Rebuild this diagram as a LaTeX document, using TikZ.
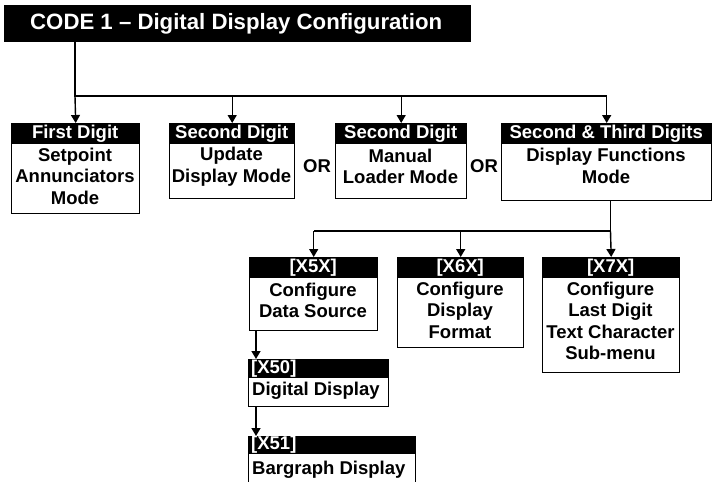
\documentclass[tikz,border=0pt]{standalone}
\usepackage{fontspec}
\setmainfont{Liberation Sans}
\usetikzlibrary{arrows.meta}
\tikzset{
  boxframe/.style={draw=black, line width=1.4pt, fill=white, inner sep=0pt, anchor=north west},
  hdr/.style={fill=black, text=white, inner sep=0pt, anchor=north west, minimum height=21pt,
    font=\fontsize{18.5}{21.5}\selectfont\bfseries},
  bodytxt/.style={align=center, inner sep=0pt, font=\fontsize{18.5}{21.5}\selectfont\bfseries},
  conn/.style={line width=1.4pt},
  arr/.style={line width=1.4pt, -{Triangle[length=8pt,width=9pt]}},
  ortxt/.style={inner sep=0pt, font=\fontsize{18.5}{21.5}\selectfont\bfseries}
}
\begin{document}
\begin{tikzpicture}[x=1pt,y=-1pt]
\clip (0,0) rectangle (713,482);
\fill[white] (0,0) rectangle (713,482);
% title
\node[fill=black, anchor=north west, minimum height=37pt, minimum width=467pt, inner sep=0pt] (title) at (4,5) {};
\node[text=white, anchor=west, inner sep=0pt, font=\fontsize{22.2}{26}\selectfont\bfseries] (titletxt) at (30,23.5)
  {CODE 1 -- Digital Display Configuration};
% top row boxes
\node[boxframe, minimum width=128pt, minimum height=90pt] (b1) at (11,123) {};
\node[hdr, minimum width=128pt] (b1h) at (11,123) {First Digit};
\node[bodytxt] (b1t) at (75,176) {Setpoint\\Annunciators\\Mode};

\node[boxframe, minimum width=125pt, minimum height=75pt] (b2) at (169,123) {};
\node[hdr, minimum width=125pt] (b2h) at (169,123) {Second Digit};
\node[bodytxt] (b2t) at (231.5,166.5) {Update\\Display Mode};

\node[boxframe, minimum width=131pt, minimum height=75pt] (b3) at (335,123) {};
\node[hdr, minimum width=131pt] (b3h) at (335,123) {Second Digit};
\node[bodytxt] (b3t) at (400.5,166.5) {Manual\\Loader Mode};

\node[boxframe, minimum width=210pt, minimum height=77pt] (b4) at (501,123) {};
\node[hdr, minimum width=210pt] (b4h) at (501,123) {Second \& Third Digits};
\node[bodytxt] (b4t) at (606,166) {Display Functions\\Mode};

\node[ortxt] (or1) at (317,166) {OR};
\node[ortxt] (or2) at (484,166) {OR};

% trunk connectors
\coordinate (j1) at (75,96);
\draw[conn] (title.south -| j1) -- (j1) -- (b4.north |- j1);
\draw[arr] (j1) -- (b1.north);
\draw[arr] (b2.north |- j1) -- (b2.north);
\draw[arr] (b3.north |- j1) -- (b3.north);
\draw[arr] (b4.north |- j1) -- (b4.north);

% second row
\node[boxframe, minimum width=128pt, minimum height=73pt] (x5) at (249,257) {};
\node[hdr, minimum width=128pt] (x5h) at (249,257) {[X5X]};
\node[bodytxt] (x5t) at (313,300.5) {Configure\\Data Source};

\node[boxframe, minimum width=126pt, minimum height=90pt] (x6) at (397,257) {};
\node[hdr, minimum width=126pt] (x6h) at (397,257) {[X6X]};
\node[bodytxt] (x6t) at (460,310) {Configure\\Display\\Format};

\node[boxframe, minimum width=137pt, minimum height=115pt] (x7) at (542,257) {};
\node[hdr, minimum width=137pt] (x7h) at (542,257) {[X7X]};
\node[bodytxt] (x7t) at (610.5,321) {Configure\\Last Digit\\Text Character\\Sub-menu};

\coordinate (j2) at (610.5,231);
\draw[conn] (b4.south -| j2) -- (j2) -- (x5.north |- j2);
\draw[arr] (x5.north |- j2) -- (x5.north);
\draw[arr] (x6.north |- j2) -- (x6.north);
\draw[arr] (j2) -- (x7.north);

% third level
\node[boxframe, minimum width=140pt, minimum height=47pt] (x50) at (248,359) {};
\node[hdr, minimum width=140pt, minimum height=19pt, text width=134pt, align=left, inner xsep=3pt] (x50h) at (248,359) {[X50]};
\node[bodytxt, anchor=west] (x50t) at (252,391) {Digital Display};

\node[boxframe, minimum width=167pt, minimum height=60pt] (x51) at (248,436) {};
\node[hdr, minimum width=167pt, minimum height=18pt, text width=161pt, align=left, inner xsep=3pt] (x51h) at (248,436) {[X51]};
\node[bodytxt, anchor=west] (x51t) at (252,470) {Bargraph Display};

\coordinate (k1) at (256,330);
\draw[arr] (k1) -- (k1 |- x50.north);
\draw[arr] (k1 |- x50.south) -- (k1 |- x51.north);
\end{tikzpicture}
\end{document}
